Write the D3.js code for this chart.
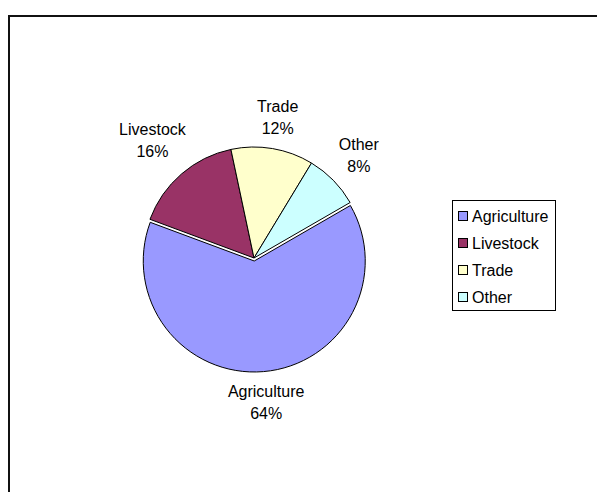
<!DOCTYPE html>
<html>
<head>
<meta charset="utf-8">
<script src="https://cdn.jsdelivr.net/npm/d3@7"></script>
<style>
  html, body { margin: 0; padding: 0; background: #fff; }
  svg { display: block; }
  text { font-family: "Liberation Sans", Arial, sans-serif; font-size: 16px; fill: #000; }
</style>
</head>
<body>
<svg id="chart" width="597" height="492"></svg>
<script>
// Income sources, share of total
const categories = ["Agriculture", "Livestock", "Trade", "Other"];
const shares = [64, 16, 12, 8];
const sliceColors = ["#9999FF", "#993366", "#FFFFCC", "#CCFFFF"];

const W = 597, H = 492;
const cx = 254, cy = 258, R = 111;
const firstSliceAngle = 60;        // degrees, clockwise from 12 o'clock
const explodedCategory = "Agriculture";
const explodeDist = 3;
const labelGap = 6;
const lineHeight = 22;

const svg = d3.select("#chart");

// chart area frame
svg.append("rect")
  .attr("x", 9).attr("y", 16)
  .attr("width", W + 20).attr("height", H + 20)
  .attr("fill", "#fff")
  .attr("stroke", "#111")
  .attr("stroke-width", 2);

const data = categories.map((c, i) => ({ name: c, value: shares[i], color: sliceColors[i] }));
const total = d3.sum(shares);

const a0 = firstSliceAngle * Math.PI / 180;
const pie = d3.pie().value(d => d.value).sort(null)
  .startAngle(a0).endAngle(a0 + 2 * Math.PI);
const arcs = pie(data);
const arcGen = d3.arc().innerRadius(0).outerRadius(R);

const g = svg.append("g").attr("transform", `translate(${cx},${cy})`);

function offsetOf(d) {
  if (d.data.name !== explodedCategory) return [0, 0];
  const m = (d.startAngle + d.endAngle) / 2;
  return [Math.sin(m) * explodeDist, -Math.cos(m) * explodeDist];
}

g.selectAll("path.slice")
  .data(arcs)
  .join("path")
  .attr("class", "slice")
  .attr("transform", d => { const o = offsetOf(d); return `translate(${o[0]},${o[1]})`; })
  .attr("d", arcGen)
  .attr("fill", d => d.data.color)
  .attr("stroke", "#000")
  .attr("stroke-width", 1)
  .attr("stroke-linejoin", "round");

// outside-end data labels: name and percentage
const labels = g.selectAll("g.label")
  .data(arcs)
  .join("g")
  .attr("class", "label");

labels.each(function (d) {
  const sel = d3.select(this);
  const t1 = sel.append("text").attr("text-anchor", "middle").attr("dy", "0.35em").text(d.data.name);
  const t2 = sel.append("text").attr("text-anchor", "middle").attr("dy", "0.35em")
    .text(Math.round(d.data.value / total * 100) + "%");
  const w = Math.max(t1.node().getComputedTextLength(), t2.node().getComputedTextLength());
  const h = lineHeight * 2;
  const m = (d.startAngle + d.endAngle) / 2;
  const s = Math.sin(m), c = Math.cos(m);
  const half = Math.abs(s) * w / 2 + Math.abs(c) * h / 2;
  const dist = R + labelGap + half;
  const o = offsetOf(d);
  const lx = o[0] + s * dist, ly = o[1] - c * dist;
  t1.attr("x", lx).attr("y", ly - lineHeight / 2);
  t2.attr("x", lx).attr("y", ly + lineHeight / 2);
});

// legend
const legX = 452.5, legY = 200.5, legW = 103, legH = 110;
const legend = svg.append("g");
legend.append("rect")
  .attr("x", legX).attr("y", legY)
  .attr("width", legW).attr("height", legH)
  .attr("fill", "#fff").attr("stroke", "#000").attr("stroke-width", 1);

const rowY = d3.scalePoint().domain(categories).range([216, 297]);
const items = legend.selectAll("g.item").data(data).join("g").attr("class", "item");
items.append("rect")
  .attr("x", 458.5).attr("y", d => rowY(d.name) - 4.5)
  .attr("width", 9).attr("height", 9)
  .attr("fill", d => d.color).attr("stroke", "#000").attr("stroke-width", 1);
items.append("text")
  .attr("x", 472).attr("y", d => rowY(d.name))
  .attr("dy", "0.35em")
  .text(d => d.name);
</script>
</body>
</html>
